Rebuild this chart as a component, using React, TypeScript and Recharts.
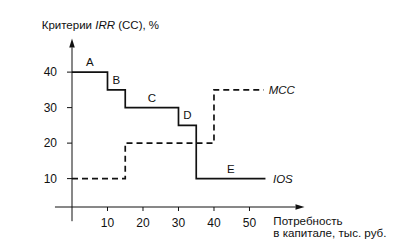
import {
  ComposedChart,
  Line,
  XAxis,
  YAxis,
  ReferenceLine,
  ReferenceDot,
} from 'recharts';

// IOS — investment opportunity schedule (solid step line)
const iosCapital = [0, 10, 15, 30, 35, 54.5];
const iosRate = [40, 35, 30, 25, 10, 10];
const iosSegments = ['A', 'B', 'C', 'D', 'E'];

// MCC — marginal cost of capital (dashed step line)
const mccCapital = [0, 15, 40, 54];
const mccRate = [10, 20, 35, 35];

const xTicks = [10, 20, 30, 40, 50];
const yTicks = [10, 20, 30, 40];

const X_DOMAIN: [number, number] = [0, 65.5];
const Y_DOMAIN: [number, number] = [2, 49.5];
const INK = '#111';
const FONT = '"Liberation Sans", Arial, sans-serif';

const iosData = iosCapital.map((x, i) => ({ x, ios: iosRate[i] }));
const mccData = mccCapital.map((x, i) => ({ x, mcc: mccRate[i] }));

const segmentLabels = iosSegments.map((name, i) => ({
  name,
  x: (iosCapital[i] + iosCapital[i + 1]) / 2,
  y: iosRate[i],
}));

// axis line with an arrow head at (x2, y2)
function ArrowAxis(props: any) {
  const { x1, y1, x2, y2 } = props;
  if ([x1, y1, x2, y2].some((v) => v == null || Number.isNaN(v))) return null;
  const a = Math.atan2(y2 - y1, x2 - x1);
  const len = 9;
  const half = 2.8;
  const bx = x2 - len * Math.cos(a);
  const by = y2 - len * Math.sin(a);
  const pts = `${x2},${y2} ${bx + half * Math.sin(a)},${by - half * Math.cos(a)} ${
    bx - half * Math.sin(a)
  },${by + half * Math.cos(a)}`;
  return (
    <g>
      <line x1={x1} y1={y1} x2={bx} y2={by} stroke={INK} strokeWidth={1} />
      <polygon points={pts} fill={INK} />
    </g>
  );
}

const YTitle = ({ viewBox }: any) => {
  if (!viewBox) return null;
  return (
    <text x={viewBox.x + 9.7} y={viewBox.y - 9.5} fontSize={11.5} fill={INK}>
      <tspan>Критерии </tspan>
      <tspan fontStyle="italic">IRR</tspan>
      <tspan> (CC), %</tspan>
    </text>
  );
};

const XTitle = ({ viewBox }: any) => {
  if (!viewBox) return null;
  const x = viewBox.x + viewBox.width - 31.2;
  return (
    <text fontSize={11.6} fill={INK}>
      <tspan x={x} y={viewBox.y + 17.5}>Потребность</tspan>
      <tspan x={x} y={viewBox.y + 29.7}>в капитале, тыс. руб.</tspan>
    </text>
  );
};

export default function App() {
  return (
    <div style={{ position: 'fixed', left: 0, top: 0, fontFamily: FONT, background: '#fff' }}>
      <ComposedChart
        width={416}
        height={240}
        margin={{ top: 38.4, right: 111.5, bottom: 0, left: 32 }}
      >
        <XAxis
          type="number"
          dataKey="x"
          domain={X_DOMAIN}
          ticks={xTicks}
          allowDataOverflow
          axisLine={false}
          tickLine={{ stroke: INK }}
          tickSize={4}
          tickMargin={7}
          height={33}
          tick={{ fontSize: 12, fill: INK }}
          label={<XTitle />}
        />
        <YAxis
          type="number"
          domain={Y_DOMAIN}
          ticks={yTicks}
          allowDataOverflow
          axisLine={false}
          tickLine={{ stroke: INK }}
          tickSize={5}
          tickMargin={10}
          width={40}
          tick={{ fontSize: 12, fill: INK }}
          label={<YTitle />}
        />

        <ReferenceLine
          segment={[
            { x: 0, y: -2 },
            { x: 0, y: Y_DOMAIN[1] },
          ]}
          ifOverflow="visible"
          shape={ArrowAxis}
        />
        <ReferenceLine
          segment={[
            { x: -4.8, y: Y_DOMAIN[0] },
            { x: X_DOMAIN[1], y: Y_DOMAIN[0] },
          ]}
          ifOverflow="visible"
          shape={ArrowAxis}
        />

        <Line
          data={iosData}
          dataKey="ios"
          type="stepAfter"
          stroke={INK}
          strokeWidth={1.7}
          dot={false}
          activeDot={false}
          isAnimationActive={false}
        />
        <Line
          data={mccData}
          dataKey="mcc"
          type="stepAfter"
          stroke={INK}
          strokeWidth={1.7}
          strokeDasharray="6 4"
          dot={false}
          activeDot={false}
          isAnimationActive={false}
        />

        {segmentLabels.map((s) => (
          <ReferenceDot
            key={s.name}
            x={s.x}
            y={s.y}
            r={0}
            fill="none"
            stroke="none"
            ifOverflow="visible"
            label={{ value: s.name, position: 'top', offset: 6, fontSize: 11.5, fill: INK }}
          />
        ))}
        <ReferenceDot
          x={mccCapital[mccCapital.length - 1]}
          y={mccRate[mccRate.length - 1]}
          r={0}
          fill="none"
          stroke="none"
          ifOverflow="visible"
          label={{ value: 'MCC', position: 'right', offset: 5, fontSize: 11.5, fontStyle: 'italic', fill: INK }}
        />
        <ReferenceDot
          x={iosCapital[iosCapital.length - 1]}
          y={iosRate[iosRate.length - 1]}
          r={0}
          fill="none"
          stroke="none"
          ifOverflow="visible"
          label={{ value: 'IOS', position: 'right', offset: 7.5, fontSize: 11.5, fontStyle: 'italic', fill: INK }}
        />
      </ComposedChart>
    </div>
  );
}
